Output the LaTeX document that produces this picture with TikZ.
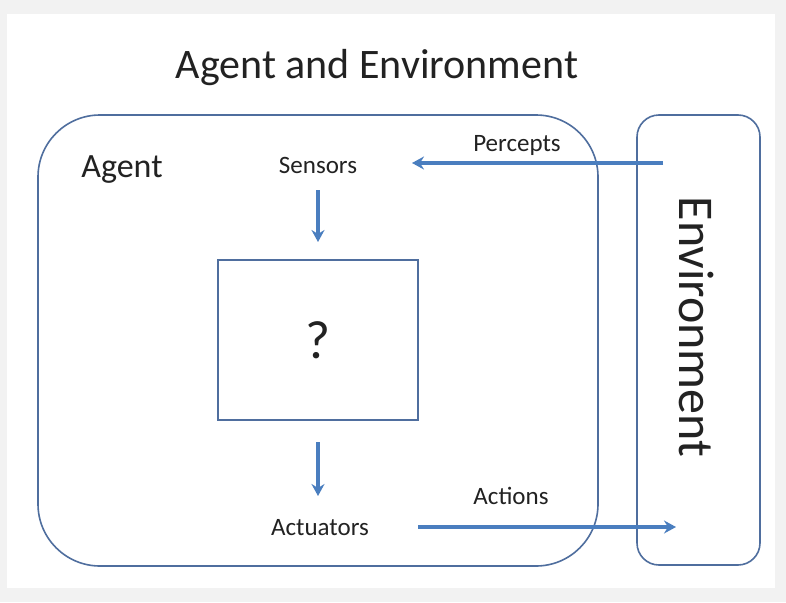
\documentclass[tikz,border=0pt]{standalone}
\usepackage{fontspec}
\setmainfont{Carlito}
\usetikzlibrary{
    positioning,
    arrows.meta
}
\definecolor{framegray}{HTML}{F2F2F2}
\definecolor{boxblue}{HTML}{4F6E9E}
\definecolor{flowblue}{HTML}{4A7EBF}
\definecolor{inkgray}{HTML}{222222}
\tikzset{
    >=Stealth,
    region/.style={
        draw=boxblue,
        line width=1.6pt,
        inner sep=0pt
    },
    flow/.style={
        -{Stealth[length=12pt,width=13pt,inset=4pt]},
        draw=flowblue,
        line width=3.2pt
    },
    tag/.style={
        text=inkgray,
        font=\fontsize{25}{30}\selectfont,
        inner sep=0pt
    }
}

\begin{document}
\begin{tikzpicture}[
    x=1pt,
    y=-1pt
]

    % Marco
    \useasboundingbox (0,0) rectangle (786,602);
    \fill[framegray] (0,0) rectangle (786,602);
    \fill[white] (7,14) rectangle (775,588);

    % Cajas
    \node[region, rounded corners=62pt, minimum width=560pt, minimum height=451pt]
        (agent) at (318,340.5) {};
    \node[region, rounded corners=22pt, minimum width=123pt, minimum height=450pt]
        (env) at (698.5,340) {};
    \node[region, minimum width=200pt, minimum height=160pt,
          font=\fontsize{54}{64}\selectfont, text=inkgray]
        (black) at (318,340) {?};

    % Textos
    \node[tag, font=\fontsize{42}{50}\selectfont] (title) at (377,68) {Agent and Environment};
    \node[tag, font=\fontsize{34}{40}\selectfont] (agentlbl) at (122,170) {Agent};
    \node[tag, rotate=-90, font=\fontsize{50}{60}\selectfont] (envlbl) at (697,327) {Environment};

    \node[tag] (sensors)   at (318,165) {Sensors};
    \node[tag] (actuators) at (320,528) {Actuators};
    \node[tag] (percepts)  at (517,145) {Percepts};
    \node[tag] (actions)   at (511,496) {Actions};

    \coordinate (perceptsrc) at (663,163);
    \coordinate (perceptdst) at (412,163);
    \coordinate (actionsrc)  at (418,527);
    \coordinate (actiondst)  at (676,527);

    % Flechas
    \draw[flow] (sensors.south |- 0,190) -- (sensors.south |- 0,242);
    \draw[flow] (black.south |- 0,442) -- (black.south |- 0,496);
    \draw[flow] (perceptsrc) -- (perceptdst);
    \draw[flow] (actionsrc) -- (actiondst);

\end{tikzpicture}
\end{document}
